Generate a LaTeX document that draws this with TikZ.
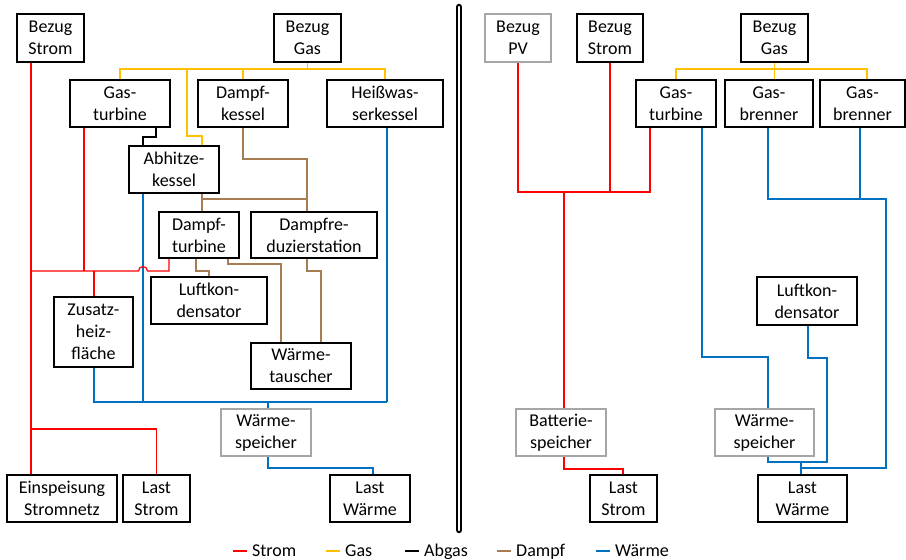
\documentclass[tikz,border=0pt]{standalone}
\usepackage{fontspec}
\setmainfont{Carlito}
\definecolor{cStrom}{RGB}{255,0,0}
\definecolor{cGas}{RGB}{255,192,0}
\definecolor{cDampf}{RGB}{166,124,82}
\definecolor{cWaerme}{RGB}{0,112,192}
\definecolor{cGrey}{RGB}{166,166,166}
\tikzset{
  unit/.style={draw=black, line width=2pt, inner sep=1pt, align=center,
    font=\fontsize{18}{22}\selectfont, minimum height=47pt},
  store/.style={unit, draw=cGrey},
  flow/.style={line width=1.2pt},
  strom/.style={flow, draw=cStrom},
  gas/.style={flow, draw=cGas},
  abgas/.style={flow, draw=black},
  dampf/.style={flow, draw=cDampf},
  waerme/.style={flow, draw=cWaerme},
  legtext/.style={anchor=base west, inner sep=0pt, font=\fontsize{18}{22}\selectfont}
}
\begin{document}
\begin{tikzpicture}[x=1pt, y=-1pt]
\useasboundingbox (0,0) rectangle (906,560);

% ---------- left system ----------
\node[unit, minimum width=67pt, minimum height=48pt] (ls)  at (50.5,38)  {Bezug\\Strom};
\node[unit, minimum width=67pt, minimum height=48pt] (lg)  at (307.5,38) {Bezug\\Gas};
\node[unit, minimum width=100pt] (lgt) at (120,103.5) {Gas-\\turbine};
\node[unit, minimum width=90pt]  (ldk) at (243,103.5) {Dampf-\\kessel};
\node[unit, minimum width=116pt] (lhw) at (385,103.5) {Heißwas-\\serkessel};
\node[unit, minimum width=90pt]  (lak) at (174,169.5) {Abhitze-\\kessel};
\node[unit, minimum width=80pt, minimum height=46pt]  (ldt) at (199,235) {Dampf-\\turbine};
\node[unit, minimum width=126pt, minimum height=46pt] (ldr) at (314,235) {Dampfre-\\duzierstation};
\node[unit, minimum width=116pt] (llk) at (209,300.5) {Luftkon-\\densator};
\node[unit, minimum width=100pt, minimum height=46pt] (lwt) at (301,366) {Wärme-\\tauscher};
\node[unit, minimum width=79pt, minimum height=70pt]  (lzh) at (93.5,332) {Zusatz-\\heiz-\\fläche};
\node[store, minimum width=90pt] (lws) at (266,432.5) {Wärme-\\speicher};
\node[unit, minimum width=110pt] (les) at (62,498.5)  {Einspeisung\\Stromnetz};
\node[unit, minimum width=67pt]  (lls) at (156.5,498.5) {Last\\Strom};
\node[unit, minimum width=80pt]  (llw) at (370,498.5) {Last\\Wärme};

% gas supply
\draw[gas] (lgt.north) |- (385,69) -- (lhw.north);
\draw[gas] (lg.south) -- (lg.south |- 0,69);
\draw[gas] (ldk.north) -- (ldk.north |- 0,69);
\draw[gas] (187,69) |- (202,136) -- (lak.north -| 202,0);
% exhaust gas
\draw[abgas] (lgt.south -| 156,0) |- (143,137) -- (lak.north -| 143,0);
% steam
\draw[dampf] (ldk.south) |- (307,159) -- (ldr.north -| 307,0);
\draw[dampf] (lak.south -| 202,0) |- (307,199);
\draw[dampf] (202,199) -- (ldt.north -| 202,0);
\draw[dampf] (ldt.south -| 196,0) |- (209,271) -- (llk.north -| 209,0);
\draw[dampf] (ldt.south -| 228,0) |- (281,264) -- (lwt.north -| 281,0);
\draw[dampf] (ldr.south -| 307,0) |- (321,271) -- (lwt.north -| 321,0);
% heat
\draw[waerme] (lak.south -| 143,0) -- (143,402);
\draw[waerme] (lhw.south -| 387,0) -- (387,402);
\draw[waerme] (lzh.south -| 94,0) |- (387,402);
\draw[waerme] (lws.north -| 268,0) -- (268,402);
\draw[waerme] (lws.south -| 268,0) |- (373,468) -- (llw.north -| 373,0);
% electricity
\draw[strom] (ls.south -| 31,0) -- (les.north -| 31,0);
\draw[strom] (lgt.south -| 84,0) -- (84,271);
\draw[strom] (31,271) -- (138.5,271) arc[start angle=180, end angle=0, radius=4.5pt]
  -- (169,271) -- (ldt.south -| 169,0);
\draw[strom] (lzh.north -| 94,0) -- (94,271);
\draw[strom] (31,429) -| (lls.north);

% ---------- separator ----------
\draw[line width=2pt, double=white, double distance=2.5pt, line cap=round] (459,7) -- (459,530);

% ---------- right system ----------
\node[store, minimum width=66pt, minimum height=48pt] (rpv) at (518,38) {Bezug\\PV};
\node[unit, minimum width=66pt, minimum height=48pt]  (rs)  at (610,38) {Bezug\\Strom};
\node[unit, minimum width=67pt, minimum height=48pt]  (rg)  at (774.5,38) {Bezug\\Gas};
\node[unit, minimum width=80pt] (rgt)  at (676,103.5) {Gas-\\turbine};
\node[unit, minimum width=88pt] (rgb1) at (769,103.5) {Gas-\\brenner};
\node[unit, minimum width=85pt] (rgb2) at (862.5,103.5) {Gas-\\brenner};
\node[unit, minimum width=100pt, minimum height=48pt] (rlk) at (807,301) {Luftkon-\\densator};
\node[store, minimum width=90pt] (rbs) at (561,432.5) {Batterie-\\speicher};
\node[unit, minimum width=67pt]  (rls) at (623.5,498.5) {Last\\Strom};
\node[store, minimum width=99pt] (rws) at (764.5,432.5) {Wärme-\\speicher};
\node[unit, minimum width=89pt]  (rlw) at (802.5,498.5) {Last\\Wärme};

% gas supply
\draw[gas] (rgt.north) |- (867,69) -- (rgb2.north -| 867,0);
\draw[gas] (rg.south) -- (rgb1.north -| rg.south);
% electricity
\draw[strom] (rpv.south) |- (650,192) -- (rgt.south -| 650,0);
\draw[strom] (rs.south) -- (610,192);
\draw[strom] (564,192) -- (rbs.north -| 564,0);
\draw[strom] (rbs.south -| 564,0) |- (623,469) -- (rls.north -| 623,0);
% heat
\draw[waerme] (rgt.south -| 702,0) |- (768,357) -- (rws.north -| 768,0);
\draw[waerme] (rgb1.south -| 768,0) |- (886,199) |- (801,468);
\draw[waerme] (rgb2.south -| 860,0) -- (860,199);
\draw[waerme] (rws.south -| 768,0) |- (827,462) |- (808,358) -- (rlk.south -| 808,0);
\draw[waerme] (801,462) -- (rlw.north -| 801,0);

% ---------- legend ----------
\coordinate (k1) at (233,551); \coordinate (k2) at (326,551);
\coordinate (k3) at (405,551); \coordinate (k4) at (497,551);
\coordinate (k5) at (596,551);
\draw[strom]  (k1) -- ++(14,0) coordinate (e1);
\draw[gas]    (k2) -- ++(14,0) coordinate (e2);
\draw[abgas]  (k3) -- ++(14,0) coordinate (e3);
\draw[dampf]  (k4) -- ++(14,0) coordinate (e4);
\draw[waerme] (k5) -- ++(14,0) coordinate (e5);
\node[legtext] (t1) at ([xshift=5pt]e1 |- 0,556) {Strom};
\node[legtext] (t2) at ([xshift=5pt]e2 |- 0,556) {Gas};
\node[legtext] (t3) at ([xshift=5pt]e3 |- 0,556) {Abgas};
\node[legtext] (t4) at ([xshift=5pt]e4 |- 0,556) {Dampf};
\node[legtext] (t5) at ([xshift=5pt]e5 |- 0,556) {Wärme};
\end{tikzpicture}
\end{document}
